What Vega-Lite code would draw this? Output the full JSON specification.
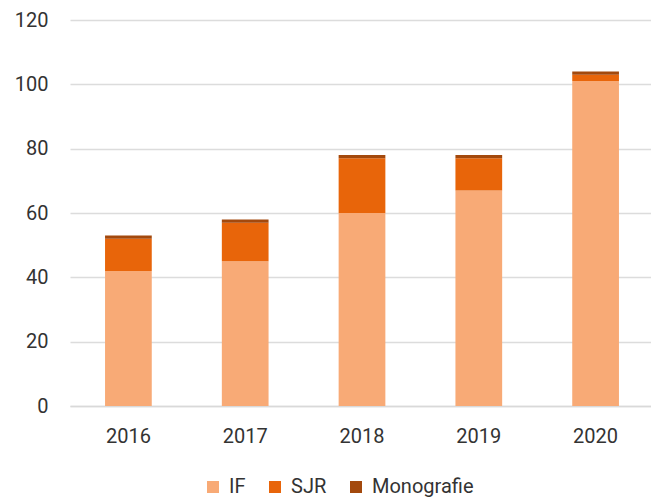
{
  "$schema": "https://vega.github.io/schema/vega-lite/v6.json",
  "width": 584,
  "height": 386,
  "autosize": {"type": "none"},
  "padding": {"left": 70, "top": 20, "right": 0, "bottom": 92},
  "background": "white",
  "config": {
    "view": {"stroke": null},
    "font": "Roboto",
    "axis": {"labelFont": "Roboto", "labelFontSize": 20, "labelColor": "#333333"},
    "legend": {"labelFont": "Roboto", "labelFontSize": 20, "labelColor": "#333333"}
  },
  "data": {
    "values": [
      {"year": "2016", "type": "IF", "value": 42, "o": 1},
      {"year": "2016", "type": "SJR", "value": 10, "o": 2},
      {"year": "2016", "type": "Monografie", "value": 1, "o": 3},
      {"year": "2017", "type": "IF", "value": 45, "o": 1},
      {"year": "2017", "type": "SJR", "value": 12, "o": 2},
      {"year": "2017", "type": "Monografie", "value": 1, "o": 3},
      {"year": "2018", "type": "IF", "value": 60, "o": 1},
      {"year": "2018", "type": "SJR", "value": 17, "o": 2},
      {"year": "2018", "type": "Monografie", "value": 1, "o": 3},
      {"year": "2019", "type": "IF", "value": 67, "o": 1},
      {"year": "2019", "type": "SJR", "value": 10, "o": 2},
      {"year": "2019", "type": "Monografie", "value": 1, "o": 3},
      {"year": "2020", "type": "IF", "value": 101, "o": 1},
      {"year": "2020", "type": "SJR", "value": 2, "o": 2},
      {"year": "2020", "type": "Monografie", "value": 1, "o": 3}
    ]
  },
  "mark": {"type": "bar"},
  "encoding": {
    "x": {
      "field": "year", "type": "nominal", "title": null,
      "scale": {"paddingInner": 0.6, "paddingOuter": 0.3},
      "axis": {"labelAngle": 0, "ticks": false, "domain": true, "domainColor": "#d9d9d9", "domainWidth": 1.5, "labelPadding": 20}
    },
    "y": {
      "field": "value", "type": "quantitative", "aggregate": "sum", "stack": "zero", "title": null,
      "scale": {"domain": [0, 120]},
      "axis": {"values": [0, 20, 40, 60, 80, 100, 120], "ticks": false, "domain": false, "gridColor": "#dcdcdc", "gridWidth": 1.5, "labelPadding": 22}
    },
    "color": {
      "field": "type", "type": "nominal",
      "scale": {"domain": ["IF", "SJR", "Monografie"], "range": ["#f8aa76", "#e8650a", "#a3490d"]},
      "legend": {"title": null, "orient": "none", "direction": "horizontal", "legendX": 133, "legendY": 457, "symbolType": "square", "symbolSize": 144, "symbolStrokeWidth": 0, "columnPadding": 19, "labelOffset": 6}
    },
    "order": {"field": "o", "type": "quantitative"}
  }
}
